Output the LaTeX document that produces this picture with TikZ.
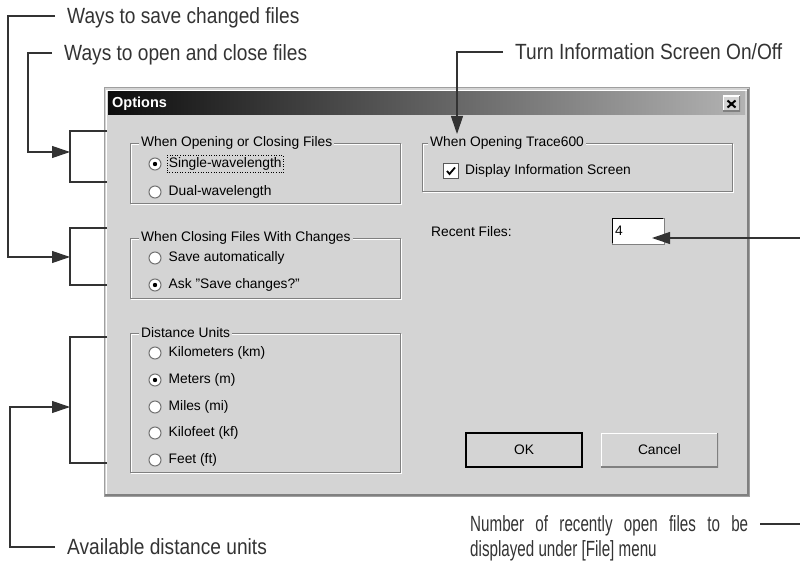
\documentclass[tikz,border=0pt]{standalone}
\usepackage{fontspec}
\setmainfont{Liberation Sans}
\newfontfamily\notefont[FakeStretch=0.87]{Liberation Sans}
\newfontfamily\narrowfont[FakeStretch=0.69]{Liberation Sans}
\usetikzlibrary{arrows.meta, positioning}
\definecolor{dlgbg}{HTML}{D4D4D4}
\definecolor{dlgdark}{HTML}{808080}
\definecolor{notec}{HTML}{333333}

\begin{document}
\begin{tikzpicture}[x=1pt, y=-1pt, font=\fontsize{13.8}{16}\selectfont,
    note/.style={font=\notefont\fontsize{22}{25}\selectfont, text=notec, inner xsep=12pt, inner ysep=2pt, text depth=0pt},
    narrownote/.style={note, font=\narrowfont\fontsize{22}{25}\selectfont},
    lead/.style={draw=notec, line width=1.1pt},
    tip/.style={lead, -{Triangle[length=18pt, width=12pt]}},
    grptitle/.style={fill=dlgbg, anchor=west, inner xsep=2pt, inner ysep=1pt},
    opt/.style={anchor=west, inner sep=2pt},
    radio/.style={circle, draw=black!55, line width=1pt, fill=white, minimum size=12pt, inner sep=0pt},
    radioon/.style={radio, path picture={\fill[black] (path picture bounding box.center) circle (2.2pt);}},
    chk/.style={rectangle, draw=black!65, line width=1pt, fill=white, minimum size=15pt, inner sep=0pt,
      path picture={\draw[black, line width=1.8pt] ([shift={(-4pt,0pt)}]path picture bounding box.center) -- ([shift={(-1.5pt,-3pt)}]path picture bounding box.center) -- ([shift={(4pt,3.5pt)}]path picture bounding box.center);}},
    btn/.style={rectangle, fill=dlgbg, minimum width=116pt, minimum height=34pt, inner sep=0pt,
      path picture={\draw[white, line width=2.5pt] (path picture bounding box.south west) -- (path picture bounding box.north west) -- (path picture bounding box.north east);
        \draw[dlgdark, line width=3pt] (path picture bounding box.north east) -- (path picture bounding box.south east) -- (path picture bounding box.south west);}},
    okbtn/.style={btn, draw=black, line width=1.2pt},
    editbox/.style={rectangle, fill=white, draw=dlgdark, minimum height=26pt, text width=46pt, align=left, inner xsep=3pt}]
  \useasboundingbox (0,0) rectangle (800,561);
  \clip (0,0) rectangle (800,561);

  % dialog window
  \draw[draw=gray!75, fill=dlgbg, line width=1pt] (104,88) rectangle (749,496);
  \draw[dlgdark, line width=2.5pt] (105,495) -- (748,495) -- (748,89);
  \draw[white] (106,494) -- (106,90) -- (747,90);
  \shade[left color=black!95, right color=black!30] (108,92) rectangle (745,115);
  \node[anchor=west, text=white, font=\bfseries\fontsize{14.5}{16}\selectfont, inner sep=2pt] (title) at (110,103.5) {Options};
  \node[btn, minimum width=17pt, minimum height=16pt] (closebtn) at (731.5,104) {};
  \draw[line width=2pt] ([shift={(-4pt,-3.5pt)}]closebtn.center) -- ([shift={(4pt,3.5pt)}]closebtn.center)
                        ([shift={(-4pt,3.5pt)}]closebtn.center) -- ([shift={(4pt,-3.5pt)}]closebtn.center);

  % opening / closing
  \draw[white] (131,144) rectangle (401,204);
  \draw[dlgdark] (130,143) rectangle (400,203);
  \node[grptitle] (g1) at (139,143) {When Opening or Closing Files};
  \node[radioon] (r11) at (155,164) {};
  \node[opt, right=5pt of r11, draw, dotted, line width=0.6pt] (t11) {Single-wavelength};
  \node[radio] (r12) at (155,192) {};
  \node[opt, right=5pt of r12] (t12) {Dual-wavelength};

  % closing with changes
  \draw[white] (131,239) rectangle (401,299);
  \draw[dlgdark] (130,238) rectangle (400,298);
  \node[grptitle] (g2) at (139,238) {When Closing Files With Changes};
  \node[radio] (r21) at (155,258) {};
  \node[opt, right=5pt of r21] (t21) {Save automatically};
  \node[radioon] (r22) at (155,285) {};
  \node[opt, right=5pt of r22] (t22) {Ask "Save changes?"};

  % distance units
  \draw[white] (131,334) rectangle (401,473);
  \draw[dlgdark] (130,333) rectangle (400,472);
  \node[grptitle] (g3) at (139,333) {Distance Units};
  \node[radio] (r31) at (155,353) {};
  \node[opt, right=5pt of r31] (t31) {Kilometers (km)};
  \node[radioon] (r32) at (155,380) {};
  \node[opt, right=5pt of r32] (t32) {Meters (m)};
  \node[radio] (r33) at (155,407) {};
  \node[opt, right=5pt of r33] (t33) {Miles (mi)};
  \node[radio] (r34) at (155,433) {};
  \node[opt, right=5pt of r34] (t34) {Kilofeet (kf)};
  \node[radio] (r35) at (155,460) {};
  \node[opt, right=5pt of r35] (t35) {Feet (ft)};

  % info screen
  \draw[white] (423,144) rectangle (733,192);
  \draw[dlgdark] (422,143) rectangle (732,191);
  \node[grptitle] (g4) at (428,143) {When Opening Trace600};
  \node[chk] (c41) at (451,171) {};
  \node[opt, right=4pt of c41] (t41) {Display Information Screen};

  \node[opt] (rflbl) at (429,232) {Recent Files:};
  \node[editbox] (rf) at (638,231) {4};
  \draw[black, line width=1pt] ([shift={(1pt,1pt)}]rf.south west) -- ([shift={(1pt,-1pt)}]rf.north west) -- ([shift={(-1pt,-1pt)}]rf.north east);

  \node[okbtn] (ok) at (524,450) {OK};
  \node[btn, minimum width=117pt] (cancel) at (659.5,450) {Cancel};

  % callouts
  \node[note, anchor=west] (savelbl) at (55,16) {Ways to save changed files};
  \node[note, anchor=west] (openlbl) at (52,53) {Ways to open and close files};
  \node[note, anchor=west] (unitlbl) at (55,547) {Available distance units};
  \node[note, anchor=west] (infolbl) at (503,52) {Turn Information Screen On/Off};
  \node[narrownote, anchor=west] (num1) at (458,524) {\makebox[278pt][s]{Number of recently open files to be}};
  \node[narrownote, anchor=west] (num2) at (458,549) {displayed under [File] menu};

  \coordinate (bsave) at (70,257);
  \coordinate (bopen) at (70,152);
  \coordinate (bunit) at (70,407);
  \coordinate (tinfo) at (457,134);
  \coordinate (rfin) at (652,238);

  \draw[lead] (107,131) -- (70,131) -- (70,182) -- (107,182);
  \draw[lead] (107,228) -- (70,228) -- (70,285) -- (107,285);
  \draw[lead] (107,337) -- (70,337) -- (70,463) -- (107,463);

  \draw[tip] (savelbl.west) -| (8,257) -- (bsave);
  \draw[tip] (openlbl.west) -| (28,152) -- (bopen);
  \draw[tip] (unitlbl.west) -| (10,407) -- (bunit);
  \draw[tip] (infolbl.west) -| (tinfo);
  \draw[tip] (num1.east) -| (806,238) -- (rfin);
\end{tikzpicture}
\end{document}
